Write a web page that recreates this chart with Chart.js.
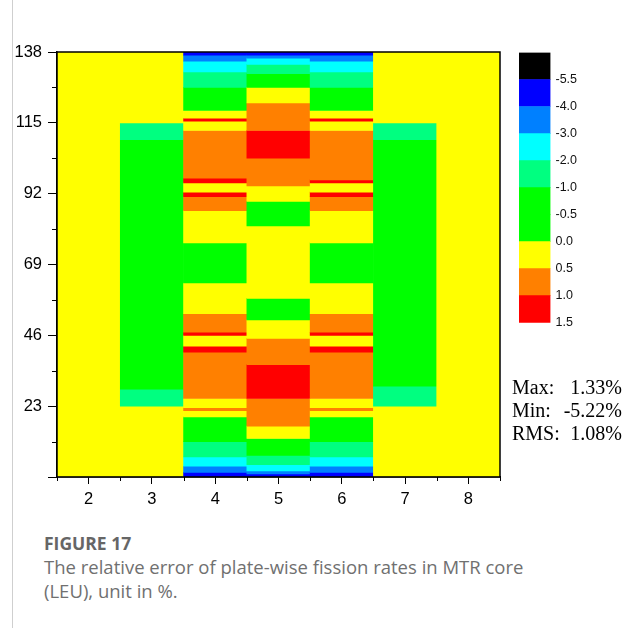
<!DOCTYPE html>
<html>
<head>
<meta charset="utf-8">
<script src="https://cdn.jsdelivr.net/npm/chart.js@4"></script>
<style>
  body { margin: 0; width: 631px; height: 628px; background: #fff; position: relative; overflow: hidden; }
  #edge { position: absolute; left: 12px; top: 0; width: 1px; height: 628px; background: #cfcfcf; }
  #map-box { position: absolute; left: 0; top: 0; width: 631px; height: 525px; }
  #bar-box { position: absolute; left: 505px; top: 40px; width: 126px; height: 300px; }
  #stats { position: absolute; left: 512px; top: 376px; width: 110px; font-family: "Liberation Serif", serif; font-size: 20px; line-height: 23px; color: #000; }
  #stats div { display: flex; justify-content: space-between; }
  #caption { position: absolute; left: 44px; top: 531px; font-family: "Open Sans", Lato, sans-serif; color: #707070; }
  #caption .fig { font-weight: bold; font-size: 17.5px; color: #666; line-height: 24px; }
  #caption .txt { font-size: 18.5px; line-height: 24px; }
</style>
</head>
<body>
<div id="edge"></div>
<div id="map-box"><canvas id="map"></canvas></div>
<div id="bar-box"><canvas id="bar"></canvas></div>
<div id="stats">
  <div><span>Max:</span><span>1.33%</span></div>
  <div><span>Min:</span><span>-5.22%</span></div>
  <div><span>RMS:</span><span>1.08%</span></div>
</div>
<div id="caption">
  <div class="fig">FIGURE 17</div>
  <div class="txt">The relative error of plate-wise fission rates in MTR core<br>(LEU), unit in %.</div>
</div>
<script>
// COLOUR SCALE (colour k = values below levelEdges[k])
const levelEdges = [-5.5, -4.0, -3.0, -2.0, -1.0, -0.5, 0.0, 0.5, 1.0, 1.5];
const levelColors = ["#000000", "#0000ff", "#0080ff", "#00ffff", "#00ff80", "#00ff00", "#00ff00", "#ffff00", "#ff8000", "#ff0000"];

// X CATEGORIES (assembly columns)
const xLabels = ["2", "3", "4", "5", "6", "7", "8"];
const yTicks = [0, 23, 46, 69, 92, 115, 138];

// PLATE BANDS PER COLUMN: edges bottom -> top, error (%) for each band
const col2Edges = [0, 138];
const col2Err = [0.1];

const col3Edges = [0, 23, 28.5, 109.5, 115, 138];
const col3Err = [0.1, -1.3, -0.4, -1.3, 0.1];

const col4Edges = [0, 1.5, 3.5, 6.5, 11.5, 19.5, 21.5, 22.5, 25.5, 40.5, 42.5, 46, 47, 53, 63, 76, 86.5, 91, 92.5, 95.5, 97, 112.5, 115.5, 116.5, 119, 126.5, 131.5, 135, 137, 138];
const col4Err = [-4.6, -3.5, -2.5, -1.4, -0.4, 0.3, 0.8, 0.3, 0.8, 1.1, 0.4, 1.1, 0.8, 0.3, -0.3, 0.3, 0.8, 1.1, 0.4, 1.1, 0.8, 0.3, 1.1, 0.3, -0.4, -1.4, -2.5, -3.5, -4.6];

const col5Edges = [0, 1, 2, 4, 7, 12.5, 16.5, 25.5, 36.5, 45, 51, 58, 81.5, 89.5, 94.5, 103.5, 112.5, 121.5, 126.5, 131, 134, 136, 137, 138];
const col5Err = [-5.2, -3.6, -2.6, -1.5, -0.5, 0.3, 0.8, 1.3, 0.8, 0.3, -0.2, 0.2, -0.2, 0.3, 0.8, 1.3, 0.8, 0.3, -0.5, -1.5, -2.6, -3.6, -5.2];

const col6Edges = [0, 1.5, 3.5, 6.5, 11.5, 19.5, 21.5, 22.5, 25.5, 40.5, 42.5, 46, 47, 53, 63, 76, 86.5, 91, 92.5, 95.5, 96.5, 112.5, 115.5, 116.5, 119, 126.5, 131.5, 135, 137, 138];
const col6Err = [-4.6, -3.5, -2.5, -1.4, -0.4, 0.3, 0.8, 0.3, 0.8, 1.1, 0.4, 1.1, 0.8, 0.3, -0.3, 0.3, 0.8, 1.1, 0.4, 1.1, 0.8, 0.3, 1.1, 0.3, -0.4, -1.4, -2.5, -3.5, -4.6];

const col7Edges = [0, 23, 29.5, 109.5, 115, 138];
const col7Err = [0.1, -1.3, -0.4, -1.3, 0.1];

const col8Edges = [0, 138];
const col8Err = [0.1];

const colEdges = [col2Edges, col3Edges, col4Edges, col5Edges, col6Edges, col7Edges, col8Edges];
const colErr = [col2Err, col3Err, col4Err, col5Err, col6Err, col7Err, col8Err];

function colorFor(v) {
  for (let k = 0; k < levelEdges.length; k++) {
    if (v < levelEdges[k]) return levelColors[k];
  }
  return levelColors[levelColors.length - 1];
}

// FLOATING BARS, one per band
const cells = [];
xLabels.forEach((lab, i) => {
  const edges = colEdges[i];
  colErr[i].forEach((err, j) => {
    cells.push({ x: lab, y: [edges[j], edges[j + 1]], err: err });
  });
});

const tickFont = { family: "'Liberation Sans', Arial, sans-serif", size: 16.5 };

// frame round the plot + short minor ticks
const framePlugin = {
  id: "frame",
  afterDraw(chart) {
    const { ctx, chartArea: a, scales } = chart;
    ctx.save();
    ctx.strokeStyle = "#000";
    ctx.lineWidth = 1.5;
    ctx.strokeRect(a.left, a.top, a.right - a.left, a.bottom - a.top);
    ctx.lineWidth = 1;
    ctx.beginPath();
    const step = (a.right - a.left) / xLabels.length;
    for (let i = 0; i <= xLabels.length; i++) {
      const px = Math.round(a.left + i * step) + 0.5;
      ctx.moveTo(px, a.bottom);
      ctx.lineTo(px, a.bottom + 4);
    }
    for (let i = 0; i < yTicks.length - 1; i++) {
      const py = Math.round(scales.y.getPixelForValue((yTicks[i] + yTicks[i + 1]) / 2)) + 0.5;
      ctx.moveTo(a.left - 5, py);
      ctx.lineTo(a.left, py);
    }
    ctx.stroke();
    ctx.restore();
  }
};

new Chart(document.getElementById("map"), {
  type: "bar",
  data: {
    labels: xLabels,
    datasets: [{
      data: cells,
      backgroundColor: c => colorFor(c.raw.err),
      borderWidth: 0,
      barPercentage: 1,
      categoryPercentage: 1
    }]
  },
  options: {
    responsive: true,
    maintainAspectRatio: false,
    animation: false,
    layout: { padding: { left: 13, top: 52, right: 131, bottom: 0 } },
    plugins: { legend: { display: false }, tooltip: { enabled: false } },
    scales: {
      x: {
        type: "category",
        offset: true,
        afterFit: s => { s.height = 48; },
        grid: { offset: false, drawOnChartArea: false, tickLength: 7, color: "#000", tickWidth: 1 },
        border: { color: "#000", width: 1.5 },
        ticks: { color: "#000", font: tickFont, padding: 6, maxRotation: 0 }
      },
      y: {
        min: 0,
        max: 138,
        afterFit: s => { s.width = 44; },
        afterBuildTicks: s => { s.ticks = yTicks.map(v => ({ value: v })); },
        grid: { drawOnChartArea: false, tickLength: 9, color: "#000", tickWidth: 1 },
        border: { color: "#000", width: 1.5 },
        ticks: { color: "#000", font: tickFont, padding: 6, callback: v => (v > 0 ? v : "") }
      }
    }
  },
  plugins: [framePlugin]
});

// COLOUR BAR
const barSets = levelColors.slice().reverse().map(col => ({
  data: [1],
  backgroundColor: col,
  borderWidth: 0,
  barPercentage: 1,
  categoryPercentage: 1
}));
const barLabels = levelEdges.slice().reverse();

new Chart(document.getElementById("bar"), {
  type: "bar",
  data: { labels: ["scale"], datasets: barSets },
  options: {
    responsive: true,
    maintainAspectRatio: false,
    animation: false,
    layout: { padding: { left: 14, top: 10, right: 40.5, bottom: 17.3 } },
    plugins: { legend: { display: false }, tooltip: { enabled: false } },
    scales: {
      x: { stacked: true, display: false },
      y: {
        stacked: true,
        position: "right",
        min: 0,
        max: levelColors.length,
        afterFit: s => { s.width = 40; },
        grid: { display: false, drawTicks: false },
        border: { display: false },
        ticks: {
          stepSize: 1,
          autoSkip: false,
          padding: 5,
          color: "#111",
          font: { family: "'Liberation Sans', Arial, sans-serif", size: 12.5 },
          callback: v => (v < barLabels.length ? barLabels[v].toFixed(1) : "")
        }
      }
    }
  }
});
</script>
</body>
</html>
